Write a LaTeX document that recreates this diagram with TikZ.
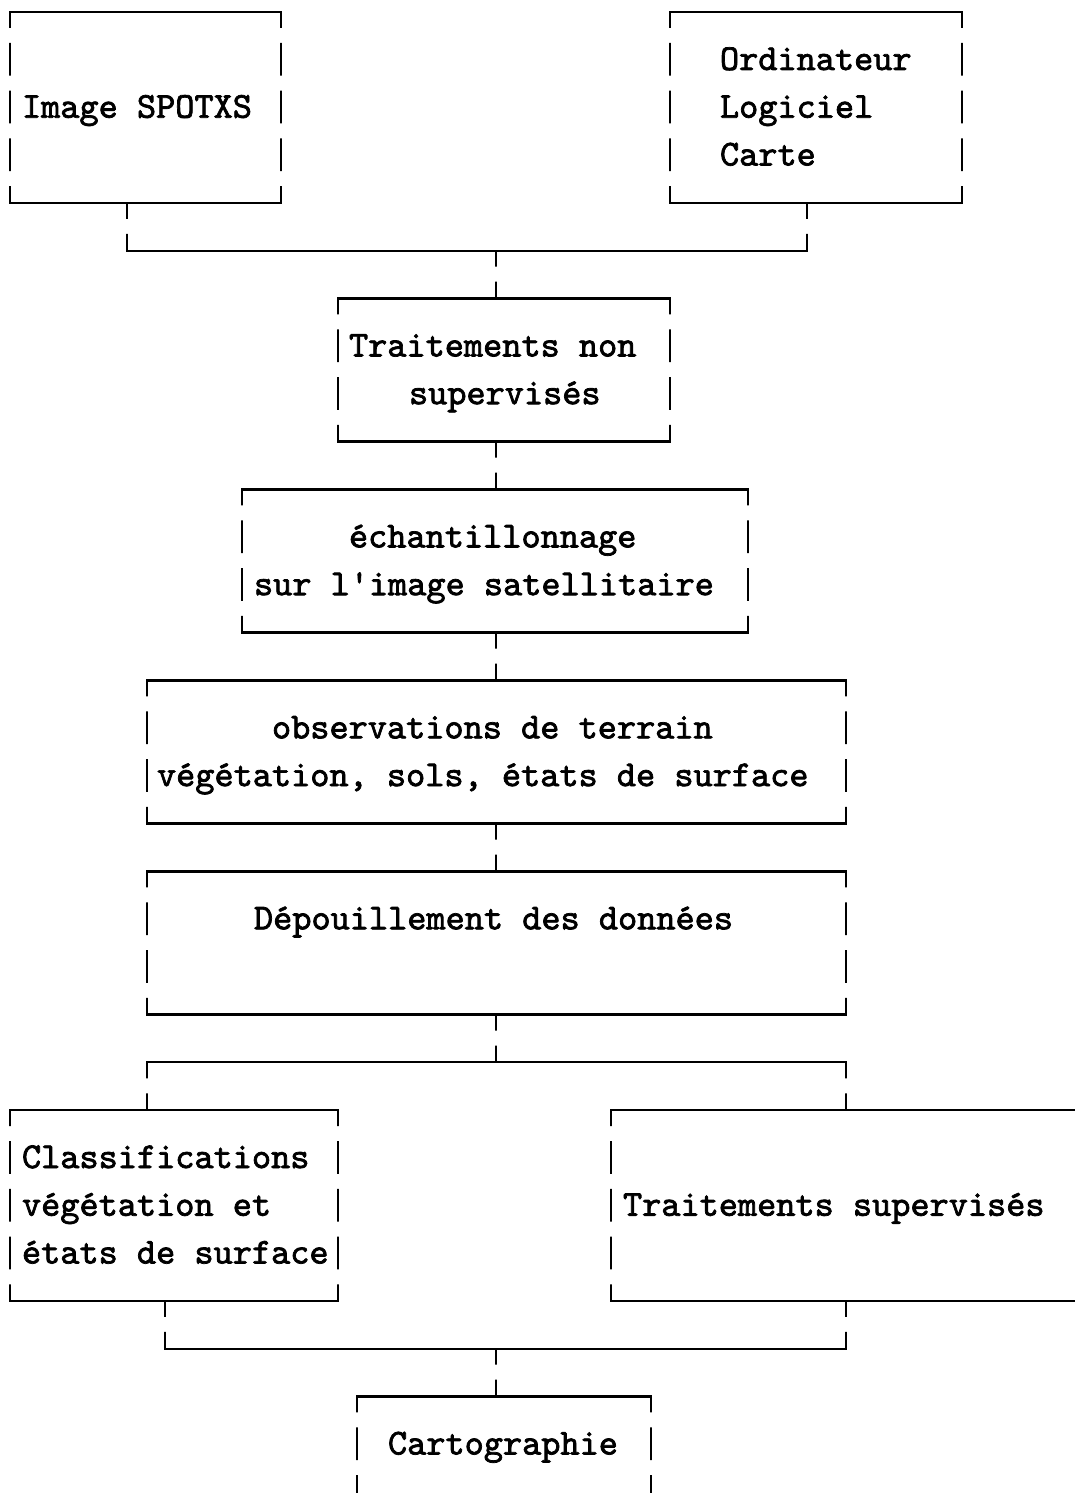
\documentclass[tikz,border=0pt]{standalone}
\usepackage{fontspec}
\setmonofont{lmmono10-regular.otf}[FakeBold=2]
\usetikzlibrary{fit}
\begin{document}
\begin{tikzpicture}[x=1pt,y=-1pt,
  box/.style={draw=none, inner sep=0pt, outer sep=0pt, rectangle},
  border/.style={line width=2.4pt, line join=miter, black},
  wire/.style={line width=2.4pt, black},
  txt/.style={font=\ttfamily\fontsize{36.5}{36.5}\selectfont, anchor=base west, inner sep=0pt, outer sep=0pt}]
\def\P{47.74}
\path[use as bounding box, fill=white] (0,0) rectangle (1075,1493);
% boxes (geometry only)
\node[box, fit={(10,12) (281,{12+\P*4})}] (b1) {};
\node[box, fit={(670,12) (962,{12+\P*4})}] (b2) {};
\node[box, fit={(338,{12+\P*6}) (670,{12+\P*9})}] (b3) {};
\node[box, fit={(242,{12+\P*10}) (748,{12+\P*13})}] (b4) {};
\node[box, fit={(147,{12+\P*14}) (846,{12+\P*17})}] (b5) {};
\node[box, fit={(147,{12+\P*18}) (846,{12+\P*21})}] (b6) {};
\node[box, fit={(10,{12+\P*23}) (338,{12+\P*27})}] (b7) {};
\node[box, fit={(611,{12+\P*23}) (1090,{12+\P*27})}] (b8) {};
\node[box, fit={(357,{12+\P*29}) (651,1510)}] (b9) {};
% texts
\node[txt] (t1) at (22,{70+\P*1}) {Image SPOTXS};
\node[txt] (t2a) at (720,{70+\P*0}) {Ordinateur};
\node[txt] (t2b) at (720,{70+\P*1}) {Logiciel};
\node[txt] (t2c) at (720,{70+\P*2}) {Carte};
\node[txt] (t3a) at (349,{70+\P*6}) {Traitements non};
\node[txt] (t3b) at (409,{70+\P*7}) {supervisés};
\node[txt] (t4a) at (349,{70+\P*10}) {échantillonnage};
\node[txt] (t4b) at (254,{70+\P*11}) {sur l'image satellitaire};
\node[txt] (t5a) at (272,{70+\P*14}) {observations de terrain};
\node[txt] (t5b) at (157,{70+\P*15}) {végétation, sols, états de surface};
\node[txt] (t6) at (254,{70+\P*18}) {Dépouillement des données};
\node[txt] (t7a) at (22,{70+\P*23}) {Classifications};
\node[txt] (t7b) at (22,{70+\P*24}) {végétation et};
\node[txt] (t7c) at (22,{70+\P*25}) {états de surface};
\node[txt] (t8) at (623,{70+\P*24}) {Traitements supervisés};
\node[txt] (t9) at (388,{70+\P*29}) {Cartographie};
% junctions
\coordinate (axis) at (496,0);
\coordinate (j1) at (496,{12+\P*5});
\coordinate (j2) at (496,{12+\P*22});
\coordinate (j3) at (496,{12+\P*28});
\begin{scope}
\clip \foreach \k in {0,...,32} {(-20,{-4.74+\P*\k}) rectangle (1100,{28+\P*\k})};
% borders
\draw[border] (b1.north west) rectangle (b1.south east);
\draw[border] (b2.north west) rectangle (b2.south east);
\draw[border] (b3.north west) rectangle (b3.south east);
\draw[border] (b4.north west) rectangle (b4.south east);
\draw[border] (b5.north west) rectangle (b5.south east);
\draw[border] (b6.north west) rectangle (b6.south east);
\draw[border] (b7.north west) rectangle (b7.south east);
\draw[border] (b8.north east) -- (b8.north west) -- (b8.south west) -- (b8.south east);
\draw[border] (b9.south west) -- (b9.north west) -- (b9.north east) -- (b9.south east);
% connectors
\draw[wire] ([xshift=117pt]b1.south west) |- (j1);
\draw[wire] ([xshift=137pt]b2.south west) |- (j1);
\draw[wire] (j1) -- (axis |- b3.north);
\draw[wire] (axis |- b3.south) -- (axis |- b4.north);
\draw[wire] (axis |- b4.south) -- (axis |- b5.north);
\draw[wire] (axis |- b5.south) -- (axis |- b6.north);
\draw[wire] (axis |- b6.south) -- (j2);
\draw[wire] (b6.west |- b7.north) |- (j2);
\draw[wire] (b6.east |- b8.north) |- (j2);
\draw[wire] ([xshift=155pt]b7.south west) |- (j3);
\draw[wire] (b6.east |- b8.south) |- (j3);
\draw[wire] (j3) -- (axis |- b9.north);
\end{scope}
\end{tikzpicture}
\end{document}
